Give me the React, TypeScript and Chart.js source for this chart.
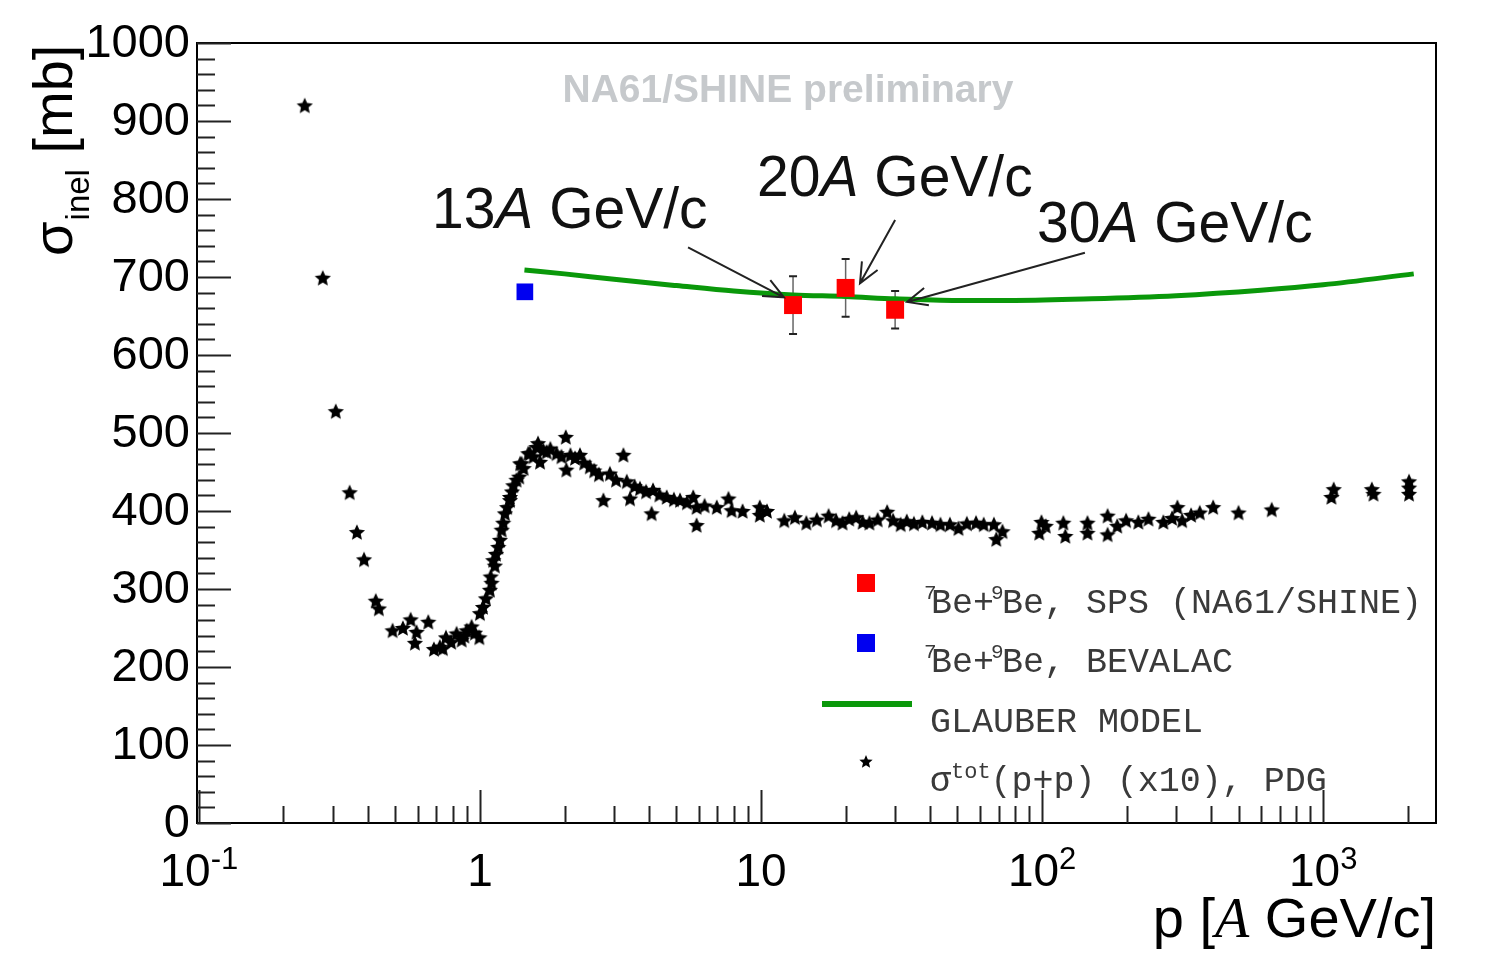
import React, { useEffect, useRef } from "react";
import { Chart, registerables } from "chart.js";

Chart.register(...registerables);

// NA61/SHINE 7Be+9Be (p in A GeV/c, sigma_inel in mb)
const spsP = [13, 20, 30];
const spsSigma = [664, 686, 658];
const spsErr = [37, 37, 24];

// BEVALAC 7Be+9Be
const bevalacP = [1.445];
const bevalacSigma = [681];

// Glauber model curve
const glauberP = [1.44, 2, 3, 5, 8, 13, 20, 30, 50, 80, 150, 300, 600, 1000, 2100];
const glauberSigma = [709, 704, 697, 689, 682, 677, 675, 672, 670, 670, 672, 676, 683, 690, 704];

// PDG p+p total cross section x10
const pdgP = [
  0.238, 0.276, 0.307, 0.344, 0.365, 0.387, 0.426, 0.437, 0.489, 0.532, 0.567, 0.587, 0.595,
  0.655, 0.686, 0.72, 0.738, 0.757, 0.79, 0.826, 0.861, 0.88, 0.897, 0.934, 0.96, 0.995, 1.0,
  1.025, 1.05, 1.085, 1.092, 1.1, 1.115, 1.13, 1.14, 1.162, 1.178, 1.195, 1.21, 1.227, 1.25,
  1.279, 1.279, 1.3, 1.314, 1.35, 1.38, 1.39, 1.407, 1.43, 1.486, 1.506, 1.55, 1.59, 1.61,
  1.636, 1.68, 1.727, 1.78, 1.874, 1.95, 2.02, 2.03, 2.1, 2.18, 2.27, 2.35, 2.46, 2.55, 2.65,
  2.75, 2.9, 3.05, 3.24, 3.33, 3.42, 3.55, 3.71, 3.9, 4.08, 4.13, 4.35, 4.62, 4.9, 5.15, 5.45,
  5.74, 5.9, 5.9, 6.3, 6.96, 7.66, 7.86, 8.6, 9.9, 9.9, 10.5,
  12.1, 13.2, 14.5, 15.8, 17.4, 18.5, 19.5, 20.6, 21.8, 23.0, 24.3, 26.0, 28.1, 29.5, 31.4,
  33.0, 35.0, 37.5, 40.6, 43.5, 47.0, 50.4, 54.0, 58.2, 62.0, 67.4, 68.7, 72.3, 97.7, 99.5,
  103, 119, 121, 145, 145, 171, 171, 185, 199, 220, 239, 270, 290, 303, 315, 339, 364, 406,
  500, 656, 1070, 1090, 1490, 1510, 2020, 2020, 2020,
];
const pdgSigma = [
  920, 699, 528, 424, 373, 338, 285, 275, 247, 250, 261, 231, 245,
  258, 223, 226, 224, 238, 232, 243, 235, 240, 247, 252, 244, 238, 269,
  277, 288, 299, 316, 308, 337, 330, 345, 354, 363, 376, 385, 397, 405,
  414, 418, 425, 433, 440, 444, 461, 461, 455, 474, 474, 470, 482, 487,
  463, 478, 476, 480, 474, 470, 495, 453, 472, 468, 472, 462, 457, 452, 447,
  414, 448, 440, 472, 438, 416, 432, 429, 425, 397, 427, 421, 418, 415, 414, 411,
  418, 405, 382, 407, 405, 416, 401, 400, 405, 395, 400,
  388, 392, 385, 389, 394, 388, 385, 390, 392, 386, 385, 389, 399, 388, 383,
  387, 384, 386, 385, 383, 383, 378, 384, 385, 383, 383, 364, 374, 372, 386,
  381, 385, 368, 385, 372, 394, 370, 381, 388, 386, 390, 386, 391, 405, 388, 395, 398, 405,
  398, 402, 418, 428, 428, 422, 422, 438, 430,
];

// axis ticks
const yTickValues = [0, 100, 200, 300, 400, 500, 600, 700, 800, 900, 1000];
const xTickValues = [0.1, 1, 10, 100, 1000];
const xTickBase = ["10", "1", "10", "10", "10"];
const xTickExp = ["-1", "", "", "2", "3"];

// annotations (data coordinates)
const labelNum = ["13", "20", "30"];
const labelP = [0.675, 9.68, 95.9];
const labelSigma = [763, 804, 745];
const arrowTailP = [5.5, 30, 142];
const arrowTailSigma = [738, 773, 731];
const arrowTipP = [12.07, 22.5, 33.1];
const arrowTipSigma = [674, 692, 668];

const SANS = '"Liberation Sans", Arial, sans-serif';
const SERIF = '"Liberation Serif", "Times New Roman", serif';
const MONO = '"Liberation Mono", "Courier New", monospace';

const RED = "#ff0000";
const BLUE = "#0000f0";
const GREEN = "#0a980a";

function makeStar(size: number) {
  const c = document.createElement("canvas");
  c.width = size;
  c.height = size;
  const g = c.getContext("2d")!;
  const R = size / 2 - 0.5;
  const r = R * 0.47;
  g.beginPath();
  for (let k = 0; k < 10; k++) {
    const a = -Math.PI / 2 + (k * Math.PI) / 5;
    const rad = k % 2 === 0 ? R : r;
    g.lineTo(size / 2 + rad * Math.cos(a), size / 2 + 0.8 + rad * Math.sin(a));
  }
  g.closePath();
  g.fillStyle = "#000";
  g.fill();
  return c;
}

function drawStar(ctx: CanvasRenderingContext2D, x: number, y: number, R: number) {
  ctx.beginPath();
  for (let k = 0; k < 10; k++) {
    const a = -Math.PI / 2 + (k * Math.PI) / 5;
    const rad = k % 2 === 0 ? R : R * 0.45;
    ctx.lineTo(x + rad * Math.cos(a), y + rad * Math.sin(a));
  }
  ctx.closePath();
  ctx.fillStyle = "#000";
  ctx.fill();
}

const decorations = {
  id: "decorations",
  beforeDatasetsDraw(chart: any) {
    const ctx: CanvasRenderingContext2D = chart.ctx;
    const xs = chart.scales.x;
    const ys = chart.scales.y;
    ctx.save();
    for (let i = 0; i < spsP.length; i++) {
      const x = xs.getPixelForValue(spsP[i]);
      const yHi = ys.getPixelForValue(spsSigma[i] + spsErr[i]);
      const yLo = ys.getPixelForValue(spsSigma[i] - spsErr[i]);
      ctx.strokeStyle = "#666";
      ctx.lineWidth = 1.5;
      ctx.beginPath();
      ctx.moveTo(x, yHi);
      ctx.lineTo(x, yLo);
      ctx.stroke();
      ctx.strokeStyle = "#222";
      ctx.lineWidth = 2;
      ctx.beginPath();
      ctx.moveTo(x - 4, yHi);
      ctx.lineTo(x + 4, yHi);
      ctx.moveTo(x - 4, yLo);
      ctx.lineTo(x + 4, yLo);
      ctx.stroke();
    }
    ctx.restore();
  },
  afterDraw(chart: any) {
    const ctx: CanvasRenderingContext2D = chart.ctx;
    const { left, right, top, bottom } = chart.chartArea;
    const xs = chart.scales.x;
    const ys = chart.scales.y;
    ctx.save();

    // frame
    ctx.strokeStyle = "#000";
    ctx.lineWidth = 2;
    ctx.strokeRect(left, top, right - left, bottom - top);

    // y ticks (inside)
    ctx.strokeStyle = "#222";
    ctx.beginPath();
    for (let v = 0; v <= 1000; v += 20) {
      const y = Math.round(ys.getPixelForValue(v)) + 0.5;
      const len = v % 100 === 0 ? 34 : 18;
      ctx.moveTo(left, y);
      ctx.lineTo(left + len, y);
    }
    ctx.stroke();

    // x ticks (inside)
    ctx.beginPath();
    for (let d = 0.1; d < 5000; d *= 10) {
      for (let m = 1; m <= 9; m++) {
        const v = d * m;
        if (v < xs.min || v > xs.max) continue;
        const x = Math.round(xs.getPixelForValue(v)) + 0.5;
        const len = m === 1 ? 33 : 17;
        ctx.moveTo(x, bottom);
        ctx.lineTo(x, bottom - len);
      }
    }
    ctx.stroke();

    // y tick labels
    ctx.fillStyle = "#000";
    ctx.font = `47px ${SANS}`;
    ctx.textAlign = "right";
    ctx.textBaseline = "middle";
    yTickValues.forEach((v) => {
      ctx.fillText(String(v), left - 7, ys.getPixelForValue(v) + 1);
    });

    // x tick labels
    ctx.textBaseline = "alphabetic";
    ctx.textAlign = "left";
    xTickValues.forEach((v, i) => {
      const x = xs.getPixelForValue(v);
      ctx.font = `46px ${SANS}`;
      const wb = ctx.measureText(xTickBase[i]).width;
      ctx.font = `31px ${SANS}`;
      const we = xTickExp[i] ? ctx.measureText(xTickExp[i]).width : 0;
      const x0 = x - (wb + we) / 2;
      const yb = bottom + 63;
      ctx.font = `46px ${SANS}`;
      ctx.fillText(xTickBase[i], x0, yb);
      if (xTickExp[i]) {
        ctx.font = `31px ${SANS}`;
        ctx.fillText(xTickExp[i], x0 + wb, yb - 17);
      }
    });

    // x title: p [A GeV/c]
    {
      const yb = bottom + 114;
      const parts: [string, string][] = [
        ["p [", `56px ${SANS}`],
        ["A", `italic 56px ${SERIF}`],
        [" GeV/c]", `56px ${SANS}`],
      ];
      let total = 0;
      parts.forEach(([t, f]) => {
        ctx.font = f;
        total += ctx.measureText(t).width;
      });
      let x = right - total;
      parts.forEach(([t, f]) => {
        ctx.font = f;
        ctx.fillText(t, x, yb);
        x += ctx.measureText(t).width;
      });
    }

    // y title: sigma_inel [mb]
    {
      ctx.save();
      ctx.translate(72, 256);
      ctx.rotate(-Math.PI / 2);
      ctx.font = `56px ${SANS}`;
      ctx.fillText("σ", 0, 0);
      let x = ctx.measureText("σ").width + 1;
      ctx.font = `33px ${SANS}`;
      ctx.fillText("inel", x, 17);
      x += ctx.measureText("inel").width;
      ctx.font = `56px ${SANS}`;
      ctx.fillText(" [mb]", x, 0);
      ctx.restore();
    }

    // preliminary label
    ctx.font = `bold 39px ${SANS}`;
    ctx.fillStyle = "#c6c9cc";
    ctx.textAlign = "center";
    ctx.fillText("NA61/SHINE preliminary", xs.getPixelForValue(12.47), ys.getPixelForValue(924));

    // energy labels and arrows
    ctx.fillStyle = "#111";
    ctx.textAlign = "left";
    labelNum.forEach((num, i) => {
      let x = xs.getPixelForValue(labelP[i]);
      const y = ys.getPixelForValue(labelSigma[i]);
      ctx.font = `57px ${SANS}`;
      ctx.fillText(num, x, y);
      x += ctx.measureText(num).width;
      ctx.font = `italic 57px ${SANS}`;
      ctx.fillText("A", x, y);
      x += ctx.measureText("A").width;
      ctx.font = `57px ${SANS}`;
      ctx.fillText(" GeV/c", x, y);
    });
    ctx.strokeStyle = "#222";
    ctx.lineWidth = 2;
    arrowTailP.forEach((p, i) => {
      const x1 = xs.getPixelForValue(p);
      const y1 = ys.getPixelForValue(arrowTailSigma[i]);
      const x2 = xs.getPixelForValue(arrowTipP[i]);
      const y2 = ys.getPixelForValue(arrowTipSigma[i]);
      const a = Math.atan2(y2 - y1, x2 - x1);
      const h = 22;
      ctx.beginPath();
      ctx.moveTo(x1, y1);
      ctx.lineTo(x2, y2);
      ctx.moveTo(x2 - h * Math.cos(a - 0.42), y2 - h * Math.sin(a - 0.42));
      ctx.lineTo(x2, y2);
      ctx.lineTo(x2 - h * Math.cos(a + 0.42), y2 - h * Math.sin(a + 0.42));
      ctx.stroke();
    });

    // legend
    const mx = 866;
    const tx = 930;
    const rows = [613, 672, 732, 791];
    ctx.fillStyle = RED;
    ctx.fillRect(mx - 9, rows[0] - 39, 18, 18);
    ctx.fillStyle = BLUE;
    ctx.fillRect(mx - 9, rows[1] - 38, 18, 18);
    ctx.fillStyle = GREEN;
    ctx.fillRect(822, rows[2] - 31, 90, 6);
    drawStar(ctx, mx, rows[3] - 29, 7);

    ctx.fillStyle = "#3a3a3a";
    const beBe = (y: number, rest: string) => {
      let x = tx - 6;
      ctx.font = `21px ${MONO}`;
      ctx.fillText("7", x, y - 14);
      x += 7;
      ctx.font = `35px ${MONO}`;
      ctx.fillText("Be+", x, y);
      x += ctx.measureText("Be+").width;
      ctx.font = `21px ${MONO}`;
      ctx.fillText("9", x - 3, y - 14);
      x += 8;
      ctx.font = `35px ${MONO}`;
      ctx.fillText(rest, x, y);
    };
    beBe(rows[0], "Be, SPS (NA61/SHINE)");
    beBe(rows[1], "Be, BEVALAC");
    ctx.font = `35px ${MONO}`;
    ctx.fillText("GLAUBER MODEL", tx, rows[2]);
    {
      let x = tx;
      ctx.font = `35px ${MONO}`;
      ctx.fillText("σ", x, rows[3]);
      x += ctx.measureText("σ").width;
      ctx.font = `22px ${MONO}`;
      ctx.fillText("tot", x, rows[3] - 13);
      x += ctx.measureText("tot").width;
      ctx.font = `35px ${MONO}`;
      ctx.fillText("(p+p) (x10), PDG", x, rows[3]);
    }

    ctx.restore();
  },
};

const App: React.FC = () => {
  const canvasRef = useRef<HTMLCanvasElement>(null);

  useEffect(() => {
    if (!canvasRef.current) return;
    const ctx = canvasRef.current.getContext("2d");
    if (!ctx) return;

    const star = makeStar(18);

    const chart = new Chart(ctx, {
      type: "scatter",
      data: {
        datasets: [
          {
            label: "7Be+9Be, SPS (NA61/SHINE)",
            data: spsP.map((p, i) => ({ x: p, y: spsSigma[i] })),
            pointStyle: "rect",
            pointRadius: 12.7,
            backgroundColor: RED,
            borderWidth: 0,
          },
          {
            label: "7Be+9Be, BEVALAC",
            data: bevalacP.map((p, i) => ({ x: p, y: bevalacSigma[i] })),
            pointStyle: "rect",
            pointRadius: 11.8,
            backgroundColor: BLUE,
            borderWidth: 0,
          },
          {
            label: "GLAUBER MODEL",
            data: glauberP.map((p, i) => ({ x: p, y: glauberSigma[i] })),
            showLine: true,
            borderColor: GREEN,
            borderWidth: 5,
            pointRadius: 0,
            cubicInterpolationMode: "monotone",
          },
          {
            label: "sigma_tot(p+p) (x10), PDG",
            data: pdgP.map((p, i) => ({ x: p, y: pdgSigma[i] })),
            pointStyle: star,
            pointRadius: 8,
          },
        ],
      },
      options: {
        animation: false,
        responsive: false,
        layout: { padding: { left: 197, right: 64, top: 43, bottom: 153 } },
        plugins: {
          legend: { display: false },
          tooltip: { enabled: false },
        },
        scales: {
          x: { type: "logarithmic", min: 0.0985, max: 2520, display: false },
          y: { type: "linear", min: 0, max: 1000, display: false },
        },
      },
      plugins: [decorations],
    } as any);

    return () => {
      chart.destroy();
    };
  }, []);

  return (
    <div style={{ position: "absolute", left: 0, top: 0, width: 1500, height: 976, background: "#fff" }}>
      <canvas ref={canvasRef} width={1500} height={976} style={{ display: "block" }} />
    </div>
  );
};

export default App;
